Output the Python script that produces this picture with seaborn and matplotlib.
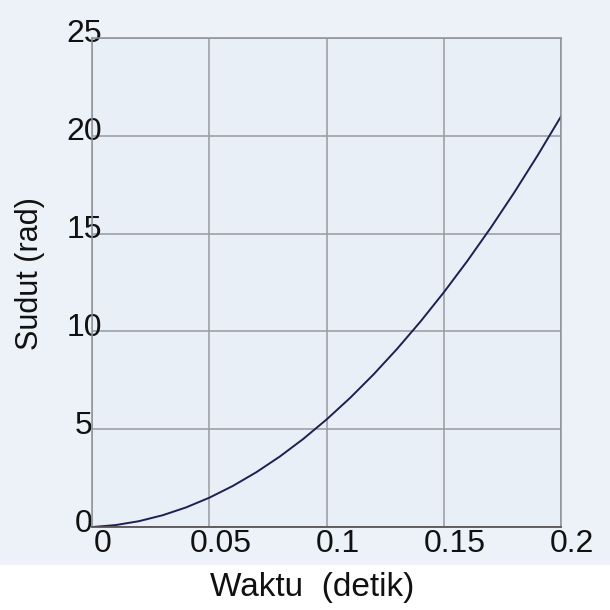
import matplotlib.pyplot as plt
import matplotlib.transforms as mtransforms
import numpy as np
import pandas as pd
import seaborn as sns

# values
waktu = [0, 0.01, 0.02, 0.03, 0.04, 0.05, 0.06, 0.07, 0.08, 0.09, 0.10,
         0.11, 0.12, 0.13, 0.14, 0.15, 0.16, 0.17, 0.18, 0.19, 0.20]
sudut = [0, 0.1, 0.3, 0.6, 1.0, 1.5, 2.1, 2.8, 3.6, 4.5, 5.5,
         6.6, 7.8, 9.1, 10.5, 12.0, 13.6, 15.3, 17.1, 19.0, 21.0]
x_ticks = [0, 0.05, 0.1, 0.15, 0.2]
x_labels = ["0", "0.05", "0.1", "0.15", "0.2"]
y_ticks = [0, 5, 10, 15, 20, 25]

df = pd.DataFrame({"Waktu (detik)": waktu, "Sudut (rad)": sudut})

sns.set_theme(style="whitegrid")
plt.rcParams['font.family'] = ['Liberation Sans', 'DejaVu Sans']

fig = plt.figure(figsize=(6.1, 6.1), dpi=100, facecolor="white")
# scanned page tint behind the plot
fig.patches.append(plt.Rectangle((0, 1 - 565 / 610), 1, 565 / 610,
                                 transform=fig.transFigure,
                                 facecolor="#edf2f8", edgecolor="none", zorder=-5))
ax = fig.add_axes([0.151, 0.136, 0.769, 0.802])
ax.set_facecolor("#e9eff6")

sns.lineplot(data=df, x="Waktu (detik)", y="Sudut (rad)", ax=ax,
             color="#1d2050", linewidth=1.4)

ax.set_xlim(0, 0.2)
ax.set_ylim(0, 25)
ax.set_xticks(x_ticks)
ax.set_xticklabels(x_labels)
ax.set_yticks(y_ticks)
ax.tick_params(axis="both", length=0, labelsize=23, colors="#111111")
ax.tick_params(axis="x", pad=1.5)
ax.tick_params(axis="y", pad=5.8)

# labels in the scan sit a little off their grid lines
dx = mtransforms.ScaledTranslation(0.11, 0, fig.dpi_scale_trans)
for lab in ax.get_xticklabels():
    lab.set_transform(lab.get_transform() + dx)
dy = mtransforms.ScaledTranslation(0, 0.07, fig.dpi_scale_trans)
for lab in ax.get_yticklabels():
    lab.set_horizontalalignment("center")
    lab.set_transform(lab.get_transform() + dy)

ax.grid(True, color="#979ba1", linewidth=1.1)
for side in ["top", "right", "left"]:
    ax.spines[side].set_color("#8e9298")
    ax.spines[side].set_linewidth(1.1)
ax.spines["bottom"].set_color("#555555")
ax.spines["bottom"].set_linewidth(1.3)

ax.set_xlabel("Waktu  (detik)", fontsize=24, color="#111111")
ax.xaxis.set_label_coords(0.469, -0.092)
ax.set_ylabel("Sudut (rad)", fontsize=22, color="#111111")
ax.yaxis.set_label_coords(-0.100, 0.518)

fig.savefig("out.png", dpi=100, facecolor=fig.get_facecolor())
